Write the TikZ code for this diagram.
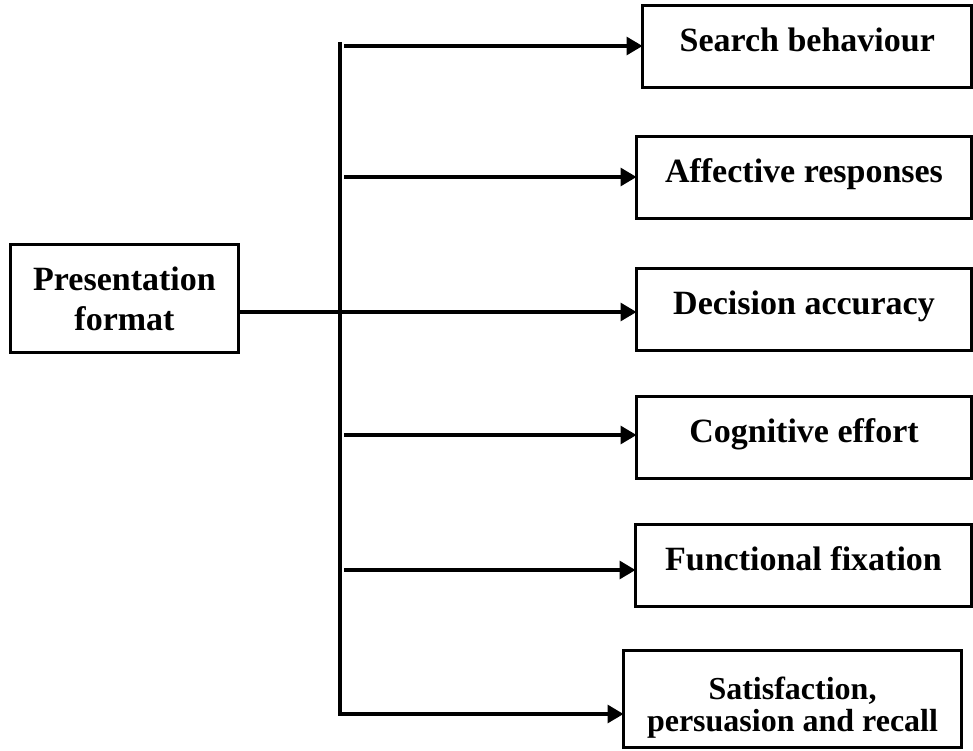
\documentclass[tikz,border=0pt]{standalone}
\usepackage{fontspec}
\setmainfont{Liberation Serif}
\usetikzlibrary{arrows.meta}
\begin{document}
\begin{tikzpicture}[x=1pt,y=-1pt,
  lbl/.style={font=\bfseries\fontsize{34}{40}\selectfont},
  box/.style={draw, line width=3.2pt, inner sep=0pt, outer sep=0pt, lbl, align=center},
  rbox/.style={box, text height=46pt, text depth=36pt, anchor=north west},
  arr/.style={line width=3.2pt, -{Triangle[length=16pt,width=18pt]}}]
\useasboundingbox (0,0) rectangle (973,751);
\node[rbox, minimum width=329.5pt] (sb) at (642.5,5.5) {Search behaviour};
\node[rbox, minimum width=335pt] (ar) at (636.5,136.5) {Affective responses};
\node[rbox, minimum width=335pt] (da) at (636.5,268.5) {Decision accuracy};
\node[rbox, minimum width=335pt] (ce) at (636.5,396.5) {Cognitive effort};
\node[rbox, minimum width=336pt] (ff) at (635.5,524.5) {Functional fixation};
\node[box, minimum width=338pt, minimum height=97pt, anchor=north west,
      font=\bfseries\fontsize{32}{32}\selectfont] (sp) at (623.5,650.5) {\rule{0pt}{40pt}Satisfaction,\\persuasion and recall};
\node[box, minimum width=228pt, minimum height=108pt, anchor=north west] (pf) at (10.5,244.5) {Presentation\\format};
\coordinate (top) at (340,42);
\coordinate (bot) at (340,714);
\coordinate (m) at (340,312);
\coordinate (s1) at (344,46);
\coordinate (s2) at (344,177);
\coordinate (s4) at (344,435);
\coordinate (s5) at (344,570);
\draw[arr] (top) -- (bot) -- (sp.west |- bot);
\draw[arr] (s1) -- (sb.west |- s1);
\draw[arr] (s2) -- (ar.west |- s2);
\draw[arr] (pf.east |- m) -- (da.west |- m);
\draw[arr] (s4) -- (ce.west |- s4);
\draw[arr] (s5) -- (ff.west |- s5);
\end{tikzpicture}
\end{document}
